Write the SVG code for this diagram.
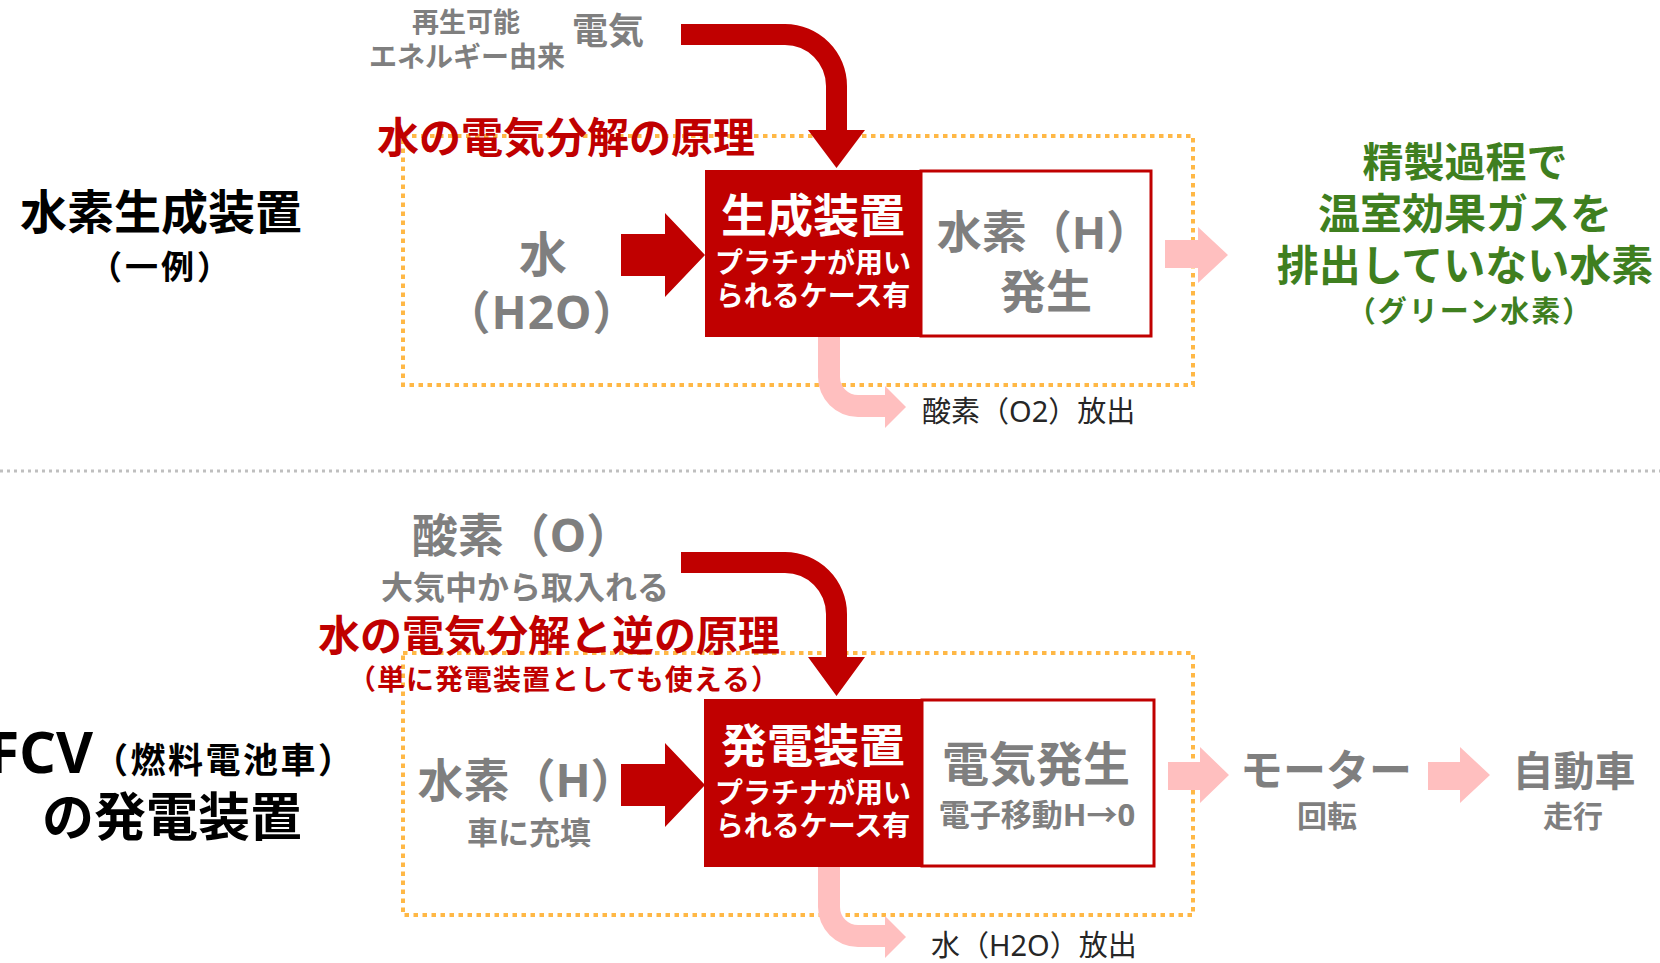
<svg xmlns="http://www.w3.org/2000/svg" width="1660" height="963" viewBox="0 0 1660 963">
<style>
text{font-family:"Noto Sans","Noto Sans CJK JP",sans-serif;font-weight:700}
.g{fill:#7F7F7F}
.k{fill:#000}
.r{fill:#C00000}
.w{fill:#FFFFFF}
.gr{fill:#3F7F1F}
.n{font-weight:400;fill:#262626}
.m{text-anchor:middle}
.red{fill:#C00000}
.pink{fill:#FFBFBF}
.dot{fill:none;stroke:#FFB846;stroke-width:4;stroke-dasharray:4.5 4.5}
.box{fill:#FFFFFF;stroke:#C00000;stroke-width:3}
</style>
<rect width="1660" height="963" fill="#FFFFFF"/>
<line x1="0" y1="471" x2="1660" y2="471" stroke="#BFBFBF" stroke-width="3" stroke-dasharray="3 4"/>

<g id="frame-top"><rect class="dot" x="403" y="136" width="790" height="249"/></g>
<g id="frame-bottom"><rect class="dot" x="403" y="653" width="790" height="262"/></g>

<g id="connectors">
<path class="red" d="M681,24 H785 A62,62 0 0 1 847,86 V130 H865 L836.5,168 L808,130 H826 V86 A41,41 0 0 0 785,45 H681 Z"/>
<path class="red" d="M681,552 H785 A62,62 0 0 1 847,614 V657 H865 L836.5,696 L808,657 H826 V614 A41,41 0 0 0 785,573 H681 Z"/>
<polygon class="red" points="621,234 665,234 665,213 705,255 665,297 665,276 621,276"/>
<polygon class="red" points="621,764 665,764 665,743 705,785 665,827 665,806 621,806"/>
<path class="pink" d="M818,336 H840 V377 A18,18 0 0 0 858,395 H885 V386 L906,407 L885,428 V417 H858 A40,40 0 0 1 818,377 Z"/>
<path class="pink" d="M818,866 H840 V907 A18,18 0 0 0 858,925 H885 V916 L906,937 L885,958 V947 H858 A40,40 0 0 1 818,907 Z"/>
<polygon class="pink" points="1165,240 1198,240 1198,227 1228,255 1198,283 1198,268 1165,268"/>
<polygon class="pink" points="1168,762 1200,762 1200,747 1229,775 1200,803 1200,790 1168,790"/>
<polygon class="pink" points="1428,762 1460,762 1460,747 1490,775 1460,803 1460,790 1428,790"/>
</g>

<g id="label-top">
<text class="k m" x="161" y="229" font-size="47">水素生成装置</text>
<text class="k m" x="161" y="279" font-size="33" letter-spacing="3">（一例）</text>
</g>
<g id="source-electricity">
<text class="g m" x="466" y="32" font-size="27">再生可能</text>
<text class="g m" x="467" y="67" font-size="28">エネルギー由来</text>
<text class="g m" x="608" y="44" font-size="36">電気</text>
</g>
<g id="title-top"><text class="r m" x="566" y="153" font-size="42">水の電気分解の原理</text></g>
<g id="input-water">
<text class="g m" x="543" y="272" font-size="48">水</text>
<text class="g m" x="542" y="329" font-size="46" letter-spacing="1">（H2O）</text>
</g>
<g id="device-generate">
<rect class="red" x="705" y="170" width="216" height="167"/>
<text class="w m" x="813" y="232" font-size="46">生成装置</text>
<text class="w m" x="813" y="273" font-size="28">プラチナが用い</text>
<text class="w m" x="813" y="306" font-size="28">られるケース有</text>
</g>
<g id="output-hydrogen">
<rect class="box" x="921" y="171" width="230" height="165"/>
<text class="g m" x="1044" y="249" font-size="45">水素（H）</text>
<text class="g m" x="1046" y="308" font-size="46">発生</text>
</g>
<g id="oxygen-release"><text class="n" x="922" y="422" font-size="29">酸素（O2）放出</text></g>
<g id="green-hydrogen">
<text class="gr m" x="1465" y="177" font-size="41">精製過程で</text>
<text class="gr m" x="1465" y="229" font-size="42">温室効果ガスを</text>
<text class="gr m" x="1465" y="281" font-size="42">排出していない水素</text>
<text class="gr m" x="1470" y="322" font-size="29" letter-spacing="2">（グリーン水素）</text>
</g>

<g id="label-bottom">
<text class="k" x="93" y="773" font-size="57" text-anchor="end">FCV</text>
<text class="k" x="93" y="773" font-size="35" letter-spacing="2.5">（燃料電池車）</text>
<text class="k m" x="172" y="836" font-size="52">の発電装置</text>
</g>
<g id="source-oxygen">
<text class="g m" x="522" y="552" font-size="46">酸素（O）</text>
<text class="g m" x="525" y="599" font-size="32">大気中から取入れる</text>
</g>
<g id="title-bottom">
<text class="r m" x="549" y="651" font-size="42">水の電気分解と逆の原理</text>
<text class="r m" x="564" y="690" font-size="28" letter-spacing="1">（単に発電装置としても使える）</text>
</g>
<g id="input-hydrogen">
<text class="g m" x="527" y="797" font-size="46">水素（H）</text>
<text class="g m" x="529" y="844" font-size="31">車に充填</text>
</g>
<g id="device-power">
<rect class="red" x="704" y="699" width="218" height="168"/>
<text class="w m" x="813" y="762" font-size="46">発電装置</text>
<text class="w m" x="813" y="803" font-size="28">プラチナが用い</text>
<text class="w m" x="813" y="836" font-size="28">られるケース有</text>
</g>
<g id="output-electricity">
<rect class="box" x="922" y="700" width="232" height="166"/>
<text class="g m" x="1036" y="781" font-size="47">電気発生</text>
<text class="g m" x="1037" y="826" font-size="31">電子移動H→0</text>
</g>
<g id="water-release"><text class="n" x="931" y="956" font-size="29">水（H2O）放出</text></g>
<g id="motor">
<text class="g m" x="1326" y="786" font-size="43">モーター</text>
<text class="g m" x="1327" y="827" font-size="30">回転</text>
</g>
<g id="car">
<text class="g m" x="1574" y="786" font-size="41">自動車</text>
<text class="g m" x="1573" y="827" font-size="30">走行</text>
</g>
</svg>
